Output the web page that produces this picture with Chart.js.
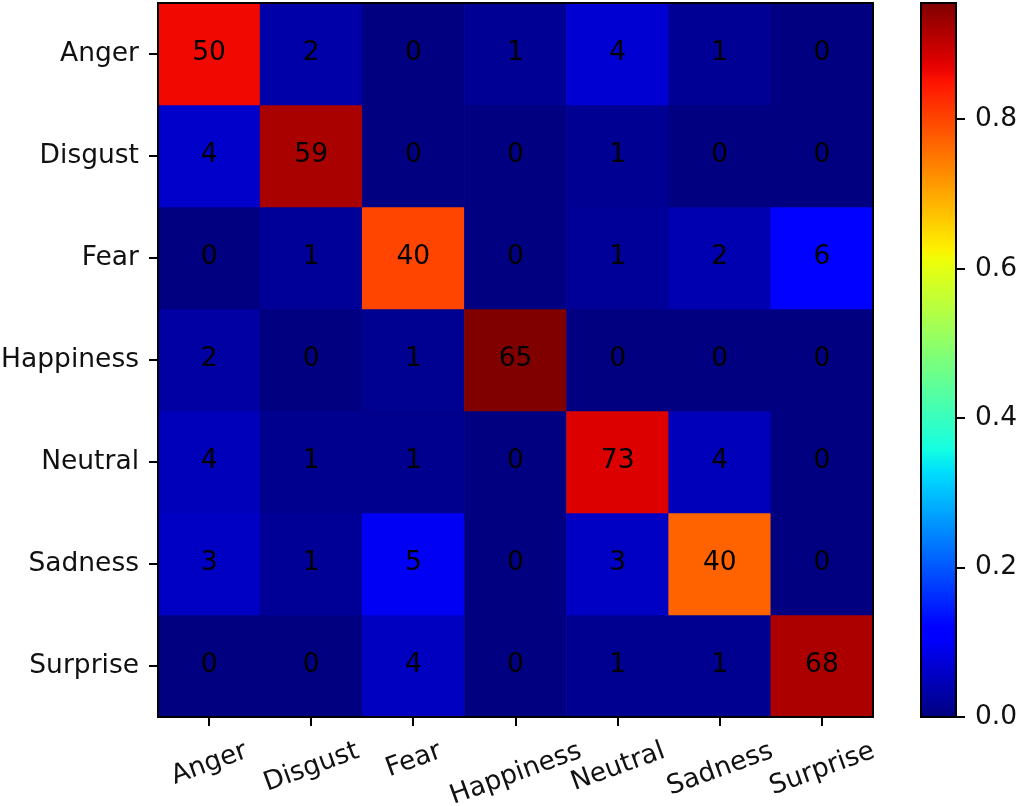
<!DOCTYPE html>
<html>
<head>
<meta charset="utf-8">
<script src="https://cdn.jsdelivr.net/npm/chart.js@4"></script>
<style>
  html, body { margin: 0; padding: 0; background: #fff; }
  #wrap { position: relative; width: 1018px; height: 806px; }
  #main { position: absolute; left: 0; top: 0; }
  #cbar { position: absolute; left: 880px; top: 0; }
</style>
</head>
<body>
<div id="wrap">
  <canvas id="main" width="1018" height="806"></canvas>
  <canvas id="cbar" width="138" height="806"></canvas>
</div>
<script>
// categories (rows = true label, columns = predicted label)
const emotions = ["Anger", "Disgust", "Fear", "Happiness", "Neutral", "Sadness", "Surprise"];

// confusion matrix counts, one array per row
const angerRow     = [50, 2, 0, 1, 4, 1, 0];
const disgustRow   = [4, 59, 0, 0, 1, 0, 0];
const fearRow      = [0, 1, 40, 0, 1, 2, 6];
const happinessRow = [2, 0, 1, 65, 0, 0, 0];
const neutralRow   = [4, 1, 1, 0, 73, 4, 0];
const sadnessRow   = [3, 1, 5, 0, 3, 40, 0];
const surpriseRow  = [0, 0, 4, 0, 1, 1, 68];

const colorbarTicks = [0.0, 0.2, 0.4, 0.6, 0.8];

const counts = [angerRow, disgustRow, fearRow, happinessRow, neutralRow, sadnessRow, surpriseRow];

// colours follow row-normalised rates
const rates = counts.map(row => {
    const s = row.reduce((a, b) => a + b, 0);
    return row.map(v => v / s);
});
const vmax = Math.max(...rates.flat());

const FONT = { family: "DejaVu Sans", size: 26.5 };
const TXT = "#111";

// matplotlib "jet"
function jet(t) {
    t = Math.min(1, Math.max(0, t));
    const seg = pts => {
        for (let i = 1; i < pts.length; i++) {
            if (t <= pts[i][0]) {
                const [x0, y0] = pts[i - 1], [x1, y1] = pts[i];
                return y0 + (y1 - y0) * (t - x0) / (x1 - x0);
            }
        }
        return pts[pts.length - 1][1];
    };
    const r = seg([[0, 0], [0.35, 0], [0.66, 1], [0.89, 1], [1, 0.5]]);
    const g = seg([[0, 0], [0.125, 0], [0.375, 1], [0.64, 1], [0.91, 0], [1, 0]]);
    const b = seg([[0, 0.5], [0.11, 1], [0.34, 1], [0.65, 0], [1, 0]]);
    return `rgb(${Math.round(r * 255)},${Math.round(g * 255)},${Math.round(b * 255)})`;
}

const frame = {
    id: "frame",
    afterDatasetsDraw(chart) {
        const a = chart.chartArea, ctx = chart.ctx;
        ctx.save();
        ctx.strokeStyle = "#000";
        ctx.lineWidth = 2;
        ctx.strokeRect(a.left, a.top, a.right - a.left, a.bottom - a.top);
        ctx.restore();
    }
};

const matrixText = {
    id: "matrixText",
    afterDatasetsDraw(chart) {
        const ctx = chart.ctx;
        ctx.save();
        ctx.font = `${FONT.size}px "${FONT.family}"`;
        ctx.fillStyle = "#000";
        ctx.textAlign = "center";
        ctx.textBaseline = "middle";
        chart.data.datasets.forEach((ds, di) => {
            chart.getDatasetMeta(di).data.forEach((bar, j) => {
                const p = bar.getCenterPoint();
                ctx.fillText(String(ds.counts[j]), p.x, p.y - 1);
            });
        });
        ctx.restore();
    },
    afterDraw(chart) {
        // rotated x labels, centred on their ticks like matplotlib
        const ctx = chart.ctx, xs = chart.scales.x;
        const theta = 20 * Math.PI / 180;
        const top = chart.chartArea.bottom + 18;
        const h = FONT.size * 1.164;
        ctx.save();
        ctx.font = `${FONT.size}px "${FONT.family}"`;
        ctx.fillStyle = TXT;
        ctx.textAlign = "center";
        ctx.textBaseline = "middle";
        emotions.forEach((lab, i) => {
            const w = ctx.measureText(lab).width;
            const bh = w * Math.sin(theta) + h * Math.cos(theta);
            ctx.save();
            ctx.translate(xs.getPixelForValue(i), top + bh / 2);
            ctx.rotate(-theta);
            ctx.fillText(lab, 0, 1);
            ctx.restore();
        });
        ctx.restore();
    }
};

const tickGrid = { drawOnChartArea: false, drawTicks: true, tickLength: 9, color: "#000", lineWidth: 2 };

function fixWidth(w) {
    return s => { s.width = w; s.paddingTop = 0; s.paddingBottom = 0; };
}

new Chart(document.getElementById("main"), {
    type: "bar",
    data: {
        labels: emotions,
        datasets: counts.map((row, r) => ({
            label: emotions[r],
            data: row.map(() => [r, r + 1]),
            counts: row,
            backgroundColor: rates[r].map(v => jet(v / vmax)),
            borderWidth: 0,
            grouped: false,
            barPercentage: 1,
            categoryPercentage: 1
        }))
    },
    options: {
        responsive: false,
        devicePixelRatio: 1,
        animation: false,
        layout: { padding: { left: 0, top: 3, right: 145, bottom: 0 } },
        plugins: { legend: { display: false }, tooltip: { enabled: false } },
        scales: {
            x: {
                type: "category",
                offset: true,
                grid: Object.assign({ offset: false }, tickGrid),
                border: { display: false },
                ticks: { display: false },
                afterFit(s) { s.height = 89; s.paddingLeft = 0; s.paddingRight = 0; }
            },
            y: {
                type: "linear",
                min: 0,
                max: 7,
                reverse: true,
                afterBuildTicks(s) { s.ticks = emotions.map((_, i) => ({ value: i + 0.5 })); },
                ticks: { callback: (v, i) => emotions[i], font: FONT, color: TXT, padding: 10 },
                grid: tickGrid,
                border: { display: false },
                afterFit: fixWidth(158)
            }
        }
    },
    plugins: [matrixText, frame]
});

// colour bar
new Chart(document.getElementById("cbar"), {
    type: "bar",
    data: {
        labels: [""],
        datasets: [{
            data: [[0, vmax]],
            backgroundColor(c) {
                const chart = c.chart;
                if (!chart.chartArea) return null;
                const ys = chart.scales.y;
                const g = chart.ctx.createLinearGradient(0, ys.getPixelForValue(0), 0, ys.getPixelForValue(vmax));
                for (let k = 0; k <= 64; k++) g.addColorStop(k / 64, jet(k / 64));
                return g;
            },
            borderWidth: 0,
            barPercentage: 1,
            categoryPercentage: 1
        }]
    },
    options: {
        responsive: false,
        devicePixelRatio: 1,
        animation: false,
        layout: { padding: { left: 41, top: 3, right: 0, bottom: 89 } },
        plugins: { legend: { display: false }, tooltip: { enabled: false } },
        scales: {
            x: { display: false },
            y: {
                position: "right",
                min: 0,
                max: vmax,
                afterBuildTicks(s) { s.ticks = colorbarTicks.map(v => ({ value: v })); },
                ticks: { callback: v => v.toFixed(1), font: FONT, color: TXT, padding: 10 },
                grid: tickGrid,
                border: { display: false },
                afterFit: fixWidth(62)
            }
        }
    },
    plugins: [frame]
});
</script>
</body>
</html>
